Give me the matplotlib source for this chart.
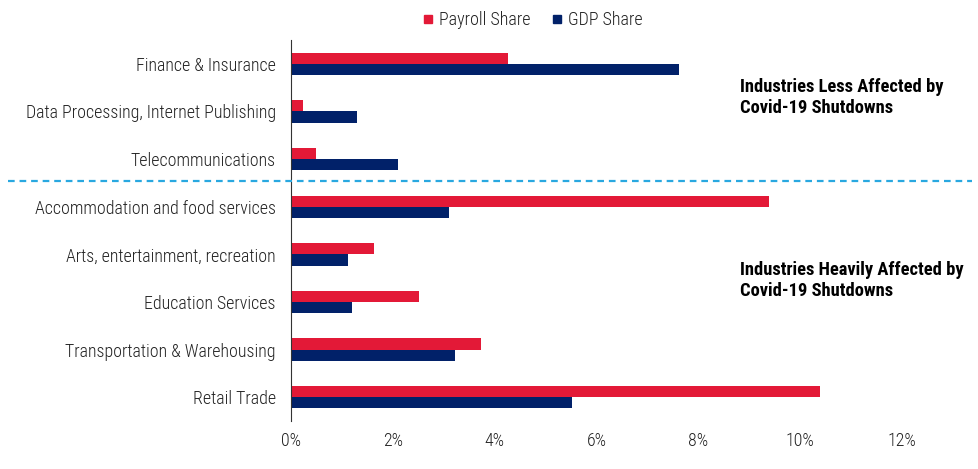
import numpy as np
import matplotlib.pyplot as plt
from matplotlib.lines import Line2D

industries = ['Finance & Insurance', 'Data Processing, Internet Publishing', 'Telecommunications',
              'Accommodation and food services', 'Arts, entertainment, recreation',
              'Education Services', 'Transportation & Warehousing', 'Retail Trade']
payroll_share = [4.26, 0.24, 0.49, 9.39, 1.63, 2.51, 3.73, 10.39]
gdp_share = [7.62, 1.30, 2.10, 3.10, 1.12, 1.20, 3.22, 5.52]
x_ticks = [0, 2, 4, 6, 8, 10, 12]

RED = '#E31937'
NAVY = '#012169'

plt.rcParams['font.family'] = ['Roboto Condensed', 'DejaVu Sans']

fig = plt.figure(figsize=(9.79, 4.69), dpi=100)
ax = fig.add_axes([0.2972, 0.1023, 0.6241, 0.8124])

y = np.arange(len(industries))
h = 0.235
ax.barh(y - h / 2, payroll_share, height=h, color=RED, label='Payroll Share')
ax.barh(y + h / 2, gdp_share, height=h, color=NAVY, label='GDP Share')

ax.set_ylim(len(industries) - 0.5, -0.5)
ax.set_xlim(0, 12)
ax.set_yticks(y)
ax.set_yticklabels(industries, fontsize=12.9, color='#222222', fontweight='light')
ax.set_xticks(x_ticks)
ax.set_xticklabels([f'{t}%' for t in x_ticks], fontsize=12.9, color='#222222', fontweight='light')
ax.tick_params(length=0, pad=8)
ax.tick_params(axis='y', pad=11)
for s in ['top', 'right', 'bottom']:
    ax.spines[s].set_visible(False)
ax.spines['left'].set_color('#333333')

# divider between the two groups, runs past the axes
line = Line2D([0.008, 0.993], [1 - 181 / 469, 1 - 181 / 469], transform=fig.transFigure,
              color='#29A8E0', lw=1.6, ls=(0, (3, 2.2)))
fig.add_artist(line)

fig.text(740 / 979, 1 - 78 / 469, 'Industries Less Affected by\nCovid-19 Shutdowns',
         fontsize=13.3, fontweight='bold', va='top', ha='left', linespacing=1.18)
fig.text(740 / 979, 1 - 261 / 469, 'Industries Heavily Affected by\nCovid-19 Shutdowns',
         fontsize=13.3, fontweight='bold', va='top', ha='left', linespacing=1.18)

handles = [Line2D([], [], marker='s', ls='', color=RED, markersize=6),
           Line2D([], [], marker='s', ls='', color=NAVY, markersize=6)]
leg = fig.legend(handles, ['Payroll Share', 'GDP Share'], loc='center', bbox_to_anchor=(0.542, 1 - 20 / 469),
                 ncol=2, frameon=False, fontsize=13, handletextpad=0.1, columnspacing=1.0,
                 handlelength=1.0)
for t in leg.get_texts():
    t.set_fontweight('light')
    t.set_color('#222222')

fig.savefig('out.png', dpi=100)
